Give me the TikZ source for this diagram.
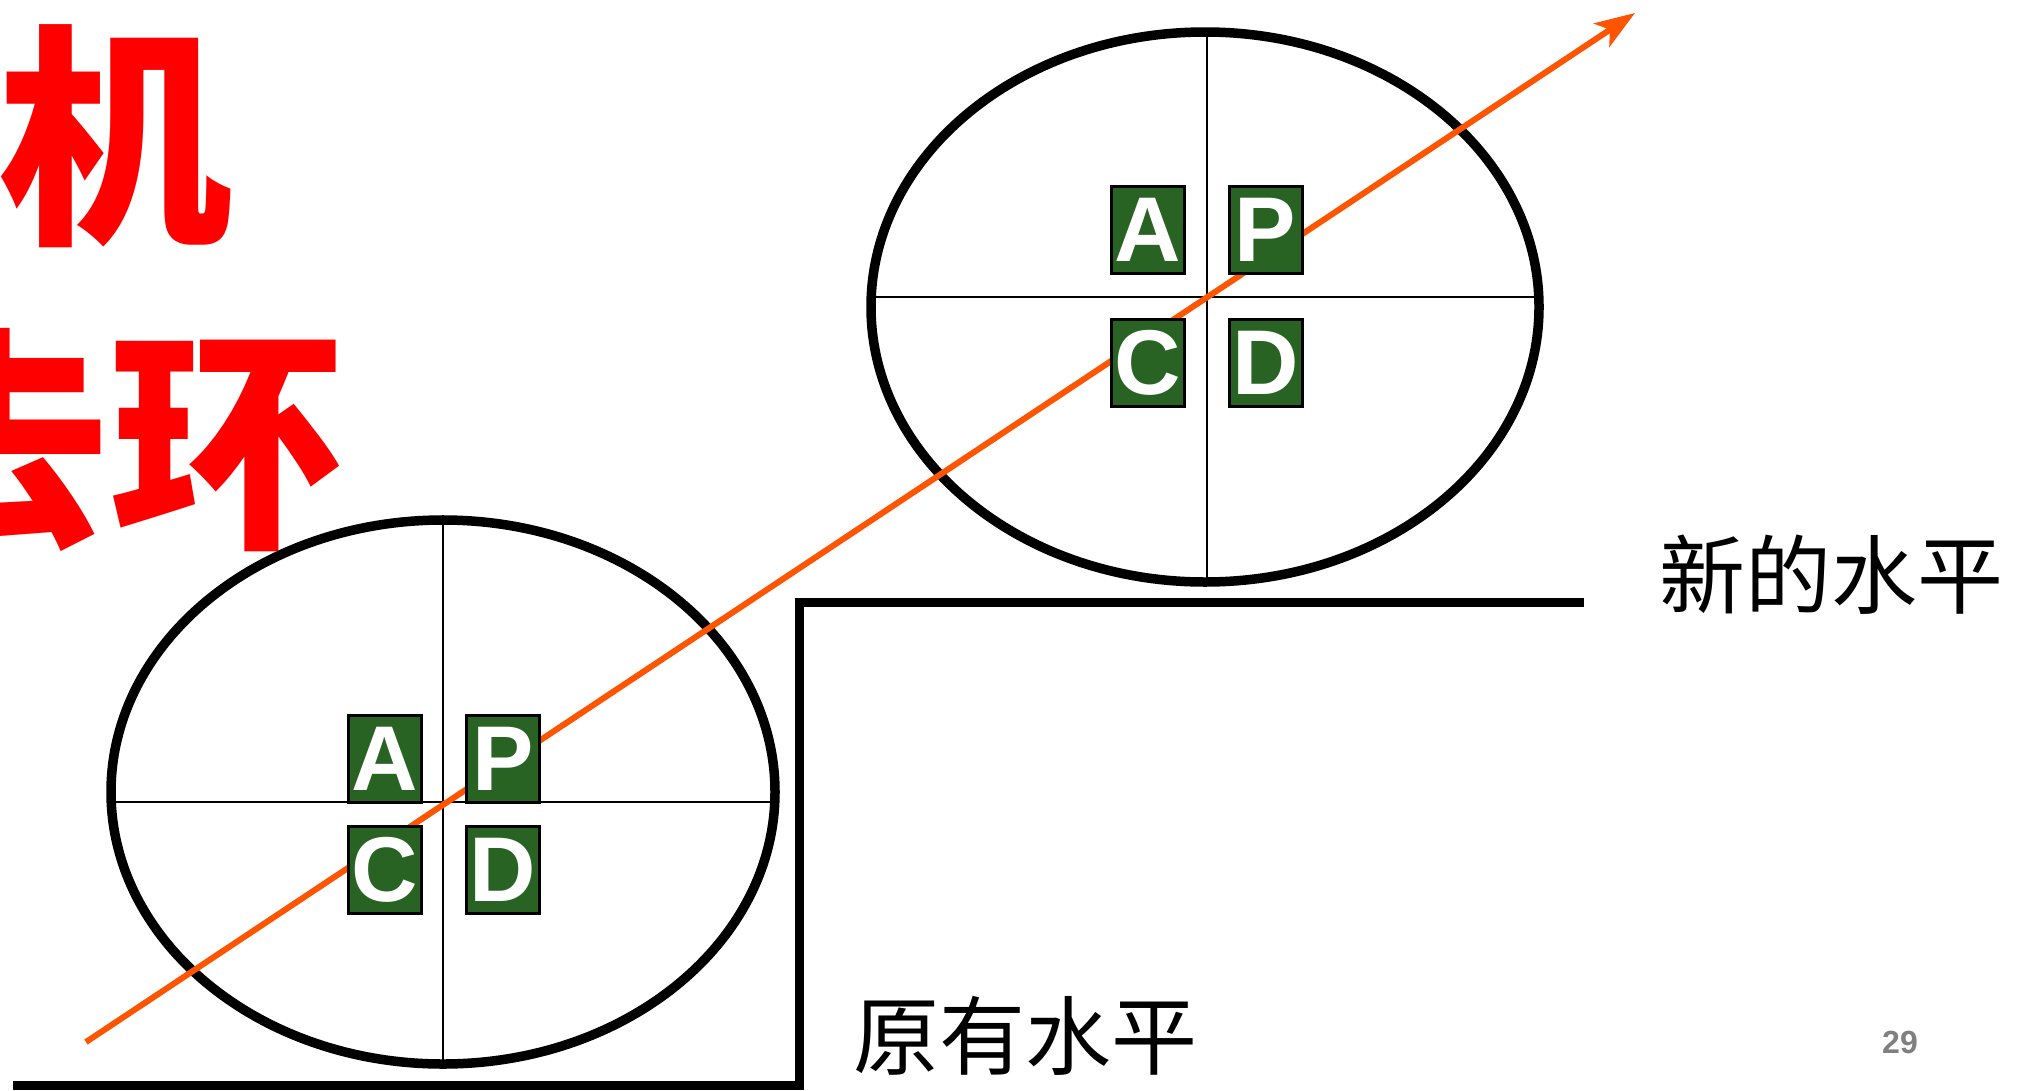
\documentclass[tikz,border=0pt]{standalone}
\usepackage{fontspec}
\setmainfont{Liberation Sans}
\newfontfamily\cjk{Noto Sans CJK SC}
\usetikzlibrary{shapes.geometric,arrows.meta}
\definecolor{boxgreen}{RGB}{41,99,35}
\definecolor{arroworange}{RGB}{255,85,0}
\definecolor{redtxt}{RGB}{255,0,0}
\definecolor{numgray}{RGB}{128,128,128}
\tikzset{
  ring/.style={draw=black, line width=9.5pt, ellipse, inner sep=0pt},
  crossline/.style={draw=black, line width=2.5pt},
  levelline/.style={draw=black, line width=9pt, line cap=butt, line join=miter},
  pdcabox/.style={draw=black, line width=3pt, fill=boxgreen, text=white,
    minimum width=73pt, minimum height=87pt, inner sep=0pt,
    font=\fontsize{92}{92}\selectfont\bfseries},
  risearrow/.style={draw=arroworange, line width=6pt,
    -{Stealth[length=40pt,width=28pt,inset=10pt]}},
  bigred/.style={text=redtxt, inner sep=0pt, anchor=east,
    font=\cjk\fontsize{235}{235}\selectfont\bfseries},
  levellabel/.style={inner sep=0pt, font=\cjk\fontsize{86}{86}\selectfont},
  pagenum/.style={inner sep=0pt, text=numgray, font=\fontsize{32}{32}\selectfont\bfseries}
}
\begin{document}
\begin{tikzpicture}[x=1pt,y=-1pt]
\useasboundingbox (0,0) rectangle (2031,1090);
\fill[white] (0,0) rectangle (2031,1090);

% red title fragments
\node[bigred] (t1) at (233,136) {机};
\node[bigred] (t2) at (345,440) {去环};

% step (levels)
\coordinate (s0) at (13,1085);
\coordinate (s1) at (799,1085);
\coordinate (s2) at (799,602);
\coordinate (s3) at (1584,602);
\draw[levelline] (s0) -- (s1) -- (s2) -- (s3);

% ellipses
\node[ring, minimum width=664pt, minimum height=544pt] (e1) at (443,792) {};
\node[ring, minimum width=668pt, minimum height=550pt] (e2) at (1205,307) {};

% cross lines
\coordinate (h1l) at (111,802);
\coordinate (h1r) at (775,802);
\draw[crossline] (e1.north) -- (e1.south);
\draw[crossline] (h1l) -- (h1r);
\coordinate (v2t) at (1207,32);
\coordinate (v2b) at (1207,582);
\coordinate (h2l) at (871,297);
\coordinate (h2r) at (1539,297);
\draw[crossline] (v2t) -- (v2b);
\draw[crossline] (h2l) -- (h2r);

% rising arrow
\coordinate (a0) at (86,1042);
\coordinate (a1) at (1635,13);
\draw[risearrow] (a0) -- (a1);

% lower PDCA
\node[pdcabox] (la) at (384.5,758.5) {A};
\node[pdcabox] (lp) at (503,758.5) {P};
\node[pdcabox] (lc) at (384.5,870) {C};
\node[pdcabox] (ld) at (503,870) {D};

% upper PDCA
\node[pdcabox] (ua) at (1147.5,230) {A};
\node[pdcabox] (up) at (1265.5,230) {P};
\node[pdcabox] (uc) at (1147.5,363) {C};
\node[pdcabox] (ud) at (1265.5,363) {D};

% labels
\node[levellabel] (newlvl) at (1831,575) {新的水平};
\node[levellabel] (oldlvl) at (1025,1036) {原有水平};
\node[pagenum] (pg) at (1900,1042) {29};
\end{tikzpicture}
\end{document}
